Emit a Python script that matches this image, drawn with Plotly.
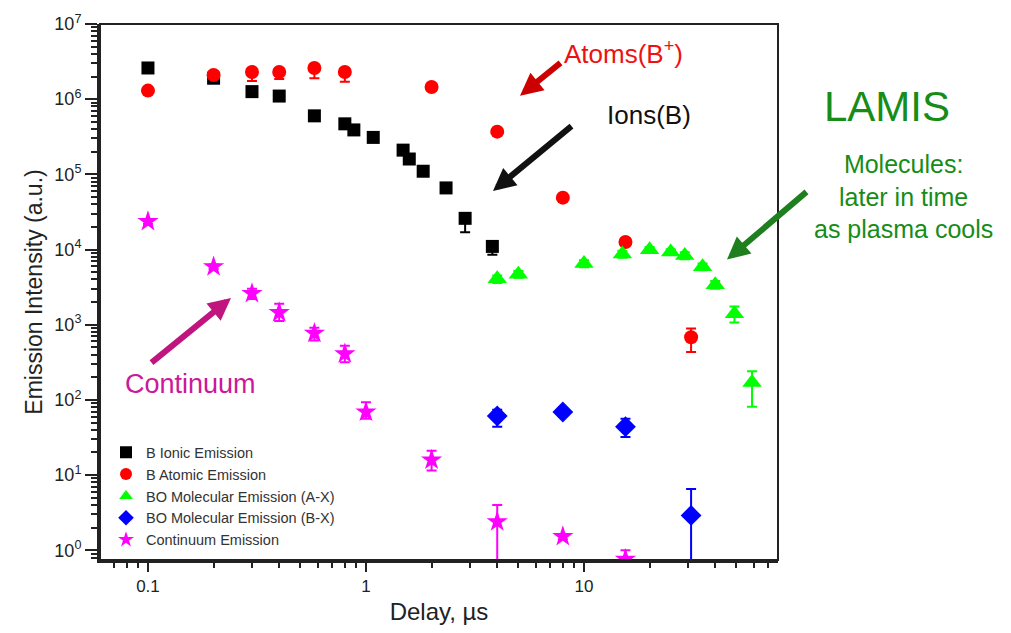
import plotly.graph_objects as go

# ---- data ----
x_ion = [0.1, 0.2, 0.3, 0.4, 0.58, 0.8, 0.88, 1.08, 1.48, 1.58, 1.83, 2.33, 2.85, 3.8]
y_ion = [2.6e6, 1.9e6, 1.26e6, 1.1e6, 6.0e5, 4.7e5, 3.9e5, 3.1e5, 2.1e5, 1.6e5, 1.1e5, 6.6e4, 2.6e4, 1.1e4]
ion_lo = [2.5e6, 1.8e6, 1.2e6, 1.05e6, 5.6e5, 4.4e5, 3.6e5, 2.8e5, 2.0e5, 1.5e5, 1.05e5, 6.2e4, 1.7e4, 8.5e3]
ion_hi = [2.7e6, 2.0e6, 1.3e6, 1.15e6, 6.4e5, 5.0e5, 4.1e5, 3.3e5, 2.2e5, 1.7e5, 1.15e5, 7.0e4, 2.9e4, 1.2e4]

x_atom = [0.1, 0.2, 0.3, 0.4, 0.58, 0.8, 2.0, 4.0, 8.0, 15.5, 31]
y_atom = [1.3e6, 2.1e6, 2.3e6, 2.3e6, 2.6e6, 2.3e6, 1.45e6, 3.7e5, 4.9e4, 1.26e4, 680]
atom_lo = [1.2e6, 1.95e6, 1.74e6, 1.85e6, 1.9e6, 1.7e6, 1.3e6, 3.3e5, 4.5e4, 1.15e4, 435]
atom_hi = [1.4e6, 2.2e6, 2.4e6, 2.4e6, 2.7e6, 2.4e6, 1.55e6, 4.0e5, 5.2e4, 1.35e4, 890]

x_ax = [4, 5, 10, 15, 20, 25, 29, 35, 40, 49, 59]
y_ax = [4.1e3, 4.7e3, 6.5e3, 8.7e3, 9.9e3, 9.3e3, 8.3e3, 5.9e3, 3.4e3, 1.4e3, 170]
ax_lo = [3.6e3, 4.2e3, 5.8e3, 7.8e3, 9.0e3, 8.5e3, 7.4e3, 5.3e3, 3.0e3, 1.07e3, 81]
ax_hi = [4.5e3, 5.2e3, 7.2e3, 9.6e3, 1.08e4, 1.01e4, 9.2e3, 6.5e3, 3.8e3, 1.74e3, 240]

x_bx = [4, 8, 15.5, 31]
y_bx = [61, 69, 44, 2.9]
bx_lo = [44, 62, 32, 0.01]
bx_hi = [74, 76, 56, 6.5]

x_cont = [0.1, 0.2, 0.3, 0.4, 0.58, 0.8, 1.0, 2.0, 4.0, 8.0, 15.5]
y_cont = [2.36e4, 5.9e3, 2.6e3, 1.45e3, 770, 410, 69, 15.9, 2.4, 1.52, 0.76]
cont_lo = [2.2e4, 5.5e3, 2.2e3, 1.12e3, 617, 316, 56, 11.5, 0.01, 1.4, 0.5]
cont_hi = [2.5e4, 6.3e3, 3.0e3, 1.9e3, 912, 525, 93, 21, 4.0, 1.65, 1.0]

y_tickvals = [1, 10, 100, 1e3, 1e4, 1e5, 1e6, 1e7]
y_ticktext = ["10<sup>0</sup>", "10<sup>1</sup>", "10<sup>2</sup>", "10<sup>3</sup>",
              "10<sup>4</sup>", "10<sup>5</sup>", "10<sup>6</sup>", "10<sup>7</sup>"]
x_tickvals = [0.1, 1, 10]
x_ticktext = ["0.1", "1", "10"]

series = [
    ("B Ionic Emission", x_ion, y_ion, ion_lo, ion_hi, "black", "square", 13),
    ("B Atomic Emission", x_atom, y_atom, atom_lo, atom_hi, "#ff0000", "circle", 14),
    ("BO Molecular Emission (A-X)", x_ax, y_ax, ax_lo, ax_hi, "#00ff00", "triangle-up", 17),
    ("BO Molecular Emission (B-X)", x_bx, y_bx, bx_lo, bx_hi, "#0000ff", "diamond", 16),
    ("Continuum Emission", x_cont, y_cont, cont_lo, cont_hi, "#ff00ff", "star", 16),
]

FONT = "Liberation Sans, Arial, sans-serif"

fig = go.Figure()
for name, xs, ys, lo, hi, col, sym, sz in series:
    fig.add_trace(go.Scatter(
        x=xs, y=ys, mode="markers", name=name,
        marker=dict(symbol=sym, color=col, size=sz, line=dict(width=0)),
        error_y=dict(type="data", symmetric=False,
                     array=[h - v for h, v in zip(hi, ys)],
                     arrayminus=[v - l for v, l in zip(ys, lo)],
                     color=col, thickness=2, width=5),
    ))

# pixel -> paper helpers for annotation placement
L, R, T, B = 100, 778, 23, 569
def px(x):
    return (x - L) / (R - L)
def py(y):
    return (B - y) / (B - T)

annots = []
def arrow(hx, hy, tx, ty, color, w=6):
    annots.append(dict(x=px(hx), y=py(hy), xref="paper", yref="paper", text="",
                       showarrow=True, ax=tx - hx, ay=ty - hy, arrowcolor=color,
                       arrowwidth=w, arrowhead=2, arrowsize=0.75, standoff=0))
def label(cx, cy, text, color, size):
    annots.append(dict(x=px(cx), y=py(cy), xref="paper", yref="paper", text=text,
                       showarrow=False, font=dict(family=FONT, size=size, color=color),
                       xanchor="center", yanchor="middle"))

arrow(520, 96, 562, 62, "#cc0000")
arrow(493, 193, 573, 127, "#111111")
arrow(727, 263, 808, 194, "#1f7f1f")
arrow(231, 302, 150, 368, "#c0157f")
label(623, 52, "Atoms(B<sup>+</sup>)", "#ee1111", 26)
label(649, 116, "Ions(B)", "#111111", 26)
label(887, 107, "LAMIS", "#178c17", 42)
label(903, 199, "Molecules:<br>later in time<br>as plasma cools", "#178c17", 25)
label(190, 390, "Continuum", "#cc1899", 27)

fig.update_layout(
    width=1011, height=633,
    margin=dict(l=L, r=1011 - R, t=T, b=633 - B),
    paper_bgcolor="white", plot_bgcolor="white",
    font=dict(family=FONT, color="#222222"),
    showlegend=True,
    legend=dict(x=px(106), y=py(443), xanchor="left", yanchor="top",
                bgcolor="rgba(0,0,0,0)", font=dict(size=14.5, family=FONT, color="#333333"),
                itemsizing="constant", tracegroupgap=0),
    annotations=annots,
    shapes=[dict(type="rect", xref="paper", yref="paper", x0=0, x1=1, y0=0, y1=1,
                 line=dict(color="#222222", width=2), layer="above")],
)

fig.update_xaxes(
    type="log", range=[-1.22, 1.89],
    tickvals=x_tickvals, ticktext=x_ticktext,
    ticks="outside", ticklen=9, tickwidth=2, tickcolor="#222222",
    minor=dict(ticks="outside", ticklen=5, tickwidth=2, tickcolor="#222222", dtick="D1", showgrid=False),
    showline=True, linewidth=3, linecolor="#222222", showgrid=False, zeroline=False,
    tickfont=dict(size=17, family=FONT, color="#222222"),
    title=dict(text="Delay, µs", font=dict(size=24, family=FONT, color="#222222"), standoff=8),
)
fig.update_yaxes(
    type="log", range=[-0.13, 7.0],
    tickvals=y_tickvals, ticktext=y_ticktext,
    ticks="outside", ticklen=12, tickwidth=2, tickcolor="#222222",
    minor=dict(ticks="outside", ticklen=6, tickwidth=2, tickcolor="#222222", dtick="D1", showgrid=False),
    showline=True, linewidth=3, linecolor="#222222", showgrid=False, zeroline=False,
    tickfont=dict(size=18, family=FONT, color="#222222"),
    title=dict(text="Emission Intensity (a.u.)", font=dict(size=23, family=FONT, color="#222222"), standoff=6),
)

fig.write_html("out.html", config={"displayModeBar": False},
               post_script="document.body.style.margin='0';document.body.style.overflow='hidden';")
